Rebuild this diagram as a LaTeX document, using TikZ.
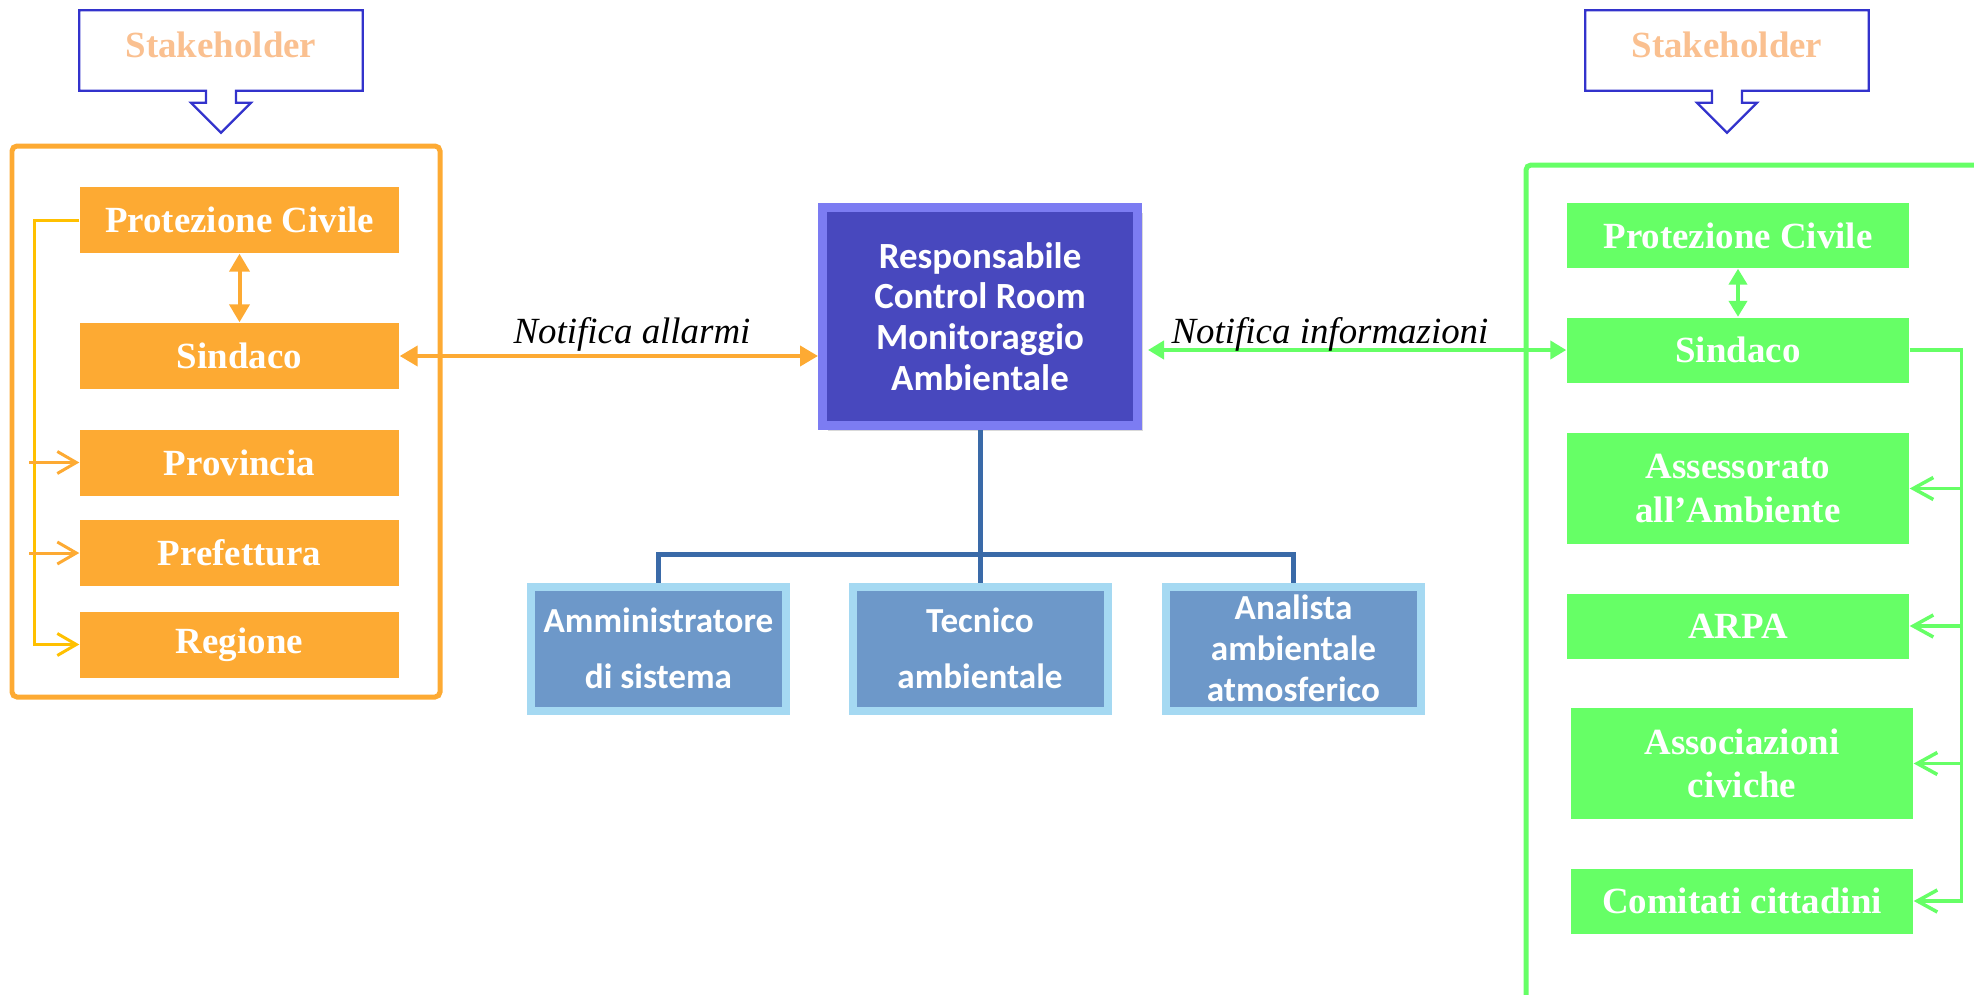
\documentclass[tikz,border=0pt]{standalone}
\usepackage{fontspec}
\setmainfont{Liberation Serif}
\newfontfamily\calibrifont{Carlito}
\usetikzlibrary{arrows.meta,calc,shadows}
\definecolor{stakeblue}{HTML}{3333CC}
\definecolor{peach}{HTML}{FAC090}
\definecolor{orangebox}{HTML}{FDAA33}
\definecolor{railyellow}{HTML}{FFC000}
\definecolor{greenbox}{HTML}{66FF66}
\definecolor{ctrlfill}{HTML}{4848BE}
\definecolor{ctrledge}{HTML}{7C7CF2}
\definecolor{techfill}{HTML}{6D98C9}
\definecolor{techedge}{HTML}{A5D9F2}
\definecolor{busblue}{HTML}{3A6AA8}
\tikzset{
  stake/.style={minimum width=28.2mm,minimum height=7.9mm,text=peach,
    font=\bfseries\fontsize{10.5}{12}\selectfont,text height=2.7mm,text depth=1.2mm},
  callout/.style={draw=stakeblue,line width=0.22mm,line join=miter},
  obox/.style={fill=orangebox,text=white,minimum width=31.9mm,minimum height=6.6mm,
    inner sep=1pt,align=center,font=\bfseries\fontsize{10.5}{12.2}\selectfont},
  gbox/.style={fill=greenbox,text=white,minimum width=34.2mm,minimum height=6.5mm,
    inner sep=1pt,align=center,font=\bfseries\fontsize{10.5}{12.4}\selectfont},
  ctrlbox/.style={fill=ctrlfill,draw=ctrledge,line width=0.9mm,text=white,
    minimum width=31.5mm,minimum height=21.8mm,inner sep=1pt,align=center,
    font=\calibrifont\bfseries\fontsize{10.5}{11.6}\selectfont,
    drop shadow={shadow xshift=0.5mm,shadow yshift=-0.5mm,opacity=0.3}},
  techbox/.style={fill=techfill,draw=techedge,line width=0.8mm,text=white,
    minimum width=25.5mm,minimum height=12.4mm,inner sep=1pt,align=center,
    font=\calibrifont\bfseries\fontsize{10}{16}\selectfont,
    drop shadow={shadow xshift=0.4mm,shadow yshift=-0.4mm,opacity=0.25}},
  oframe/.style={draw=orangebox,line width=0.5mm,rounded corners=0.5mm},
  gframe/.style={draw=greenbox,line width=0.5mm,rounded corners=0.5mm},
  obi/.style={{Triangle[length=1.8mm,width=2mm]}-{Triangle[length=1.8mm,width=2mm]},orangebox,line width=0.4mm},
  gbi/.style={{Triangle[length=1.6mm,width=1.8mm]}-{Triangle[length=1.6mm,width=1.8mm]},greenbox,line width=0.4mm},
  yrail/.style={railyellow,line width=0.3mm,-{Straight Barb[length=1.9mm,width=2.2mm]}},
  orail/.style={orangebox,line width=0.3mm,-{Straight Barb[length=1.9mm,width=2.2mm]}},
  grail/.style={greenbox,line width=0.35mm,-{Straight Barb[length=2mm,width=2.2mm]}},
  bus/.style={busblue,line width=0.5mm},
  notif/.style={anchor=base,font=\itshape\fontsize{10.5}{12}\selectfont},
}
\begin{document}
\begin{tikzpicture}[x=0.1mm,y=-0.1mm]
  \useasboundingbox (0,0) rectangle (1974,995);
  \clip (0,0) rectangle (1974,995);

  % stakeholder callouts
  \node[stake] (skL) at (221,50.5) {Stakeholder};
  \node[stake] (skR) at (1727,50.5) {Stakeholder};
  \draw[callout] (skL.north west) -- (skL.north east) -- (skL.south east)
    -- ($(skL.south)+(15,0)$) -- ++(0,12) -- ++(15,0) -- ($(skL.south)+(0,42)$)
    -- ($(skL.south)+(-30,12)$) -- ++(15,0) -- ++(0,-12) -- (skL.south west) -- cycle;
  \draw[callout] (skR.north west) -- (skR.north east) -- (skR.south east)
    -- ($(skR.south)+(15,0)$) -- ++(0,12) -- ++(15,0) -- ($(skR.south)+(0,42)$)
    -- ($(skR.south)+(-30,12)$) -- ++(15,0) -- ++(0,-12) -- (skR.south west) -- cycle;

  % frames
  \draw[oframe] (12,146) rectangle (440,697);
  \draw[gframe] (1526,165) rectangle (2100,1100);

  % left group
  \node[obox] (oProt) at (239.5,220) {Protezione Civile};
  \node[obox] (oSind) at (239.5,356) {Sindaco};
  \node[obox] (oProv) at (239.5,462.5) {Provincia};
  \node[obox] (oPref) at (239.5,553) {Prefettura};
  \node[obox] (oReg) at (239.5,644.5) {Regione};

  % right group
  \node[gbox] (gProt) at (1738,235.5) {Protezione Civile};
  \node[gbox] (gSind) at (1738,350) {Sindaco};
  \node[gbox,minimum height=11.1mm] (gAss) at (1738,488.5) {Assessorato\\all’Ambiente};
  \node[gbox] (gArpa) at (1738,626) {ARPA};
  \node[gbox,minimum height=11.1mm] (gAsc) at (1742,763.5) {Associazioni\\civiche};
  \node[gbox] (gCom) at (1742,901) {Comitati cittadini};

  % control room
  \coordinate (busC) at (980,554);
  \draw[bus] (980,400) -- (busC);
  \node[ctrlbox] (ctrl) at (980,316.5) {Responsabile\\Control Room\\Monitoraggio\\Ambientale};
  \node[techbox] (tAmm) at (658.5,648.5) {Amministratore\\di sistema};
  \node[techbox] (tTec) at (980,648.5) {Tecnico\\ambientale};
  \node[techbox,font=\calibrifont\bfseries\fontsize{10}{11.7}\selectfont] (tAna) at (1293.5,648.5) {Analista\\ambientale\\atmosferico};
  \draw[bus] (ctrl.south) -- (busC);
  \draw[bus] (tAmm.north) |- (busC) -| (tAna.north);
  \draw[bus] (busC) -- (tTec.north);

  % notifications
  \draw[obi] (oSind.east) -- (oSind.east -| ctrl.west);
  \draw[gbi,shorten >=0.6mm] (gSind.west) -- (gSind.west -| ctrl.east);
  \node[notif] (lAll) at (632,343) {Notifica allarmi};
  \node[notif] (lInf) at (1330,343) {Notifica informazioni};

  % internal links
  \draw[obi] (oProt) -- (oSind);
  \draw[gbi] (gProt) -- (gSind);
  \coordinate (lrail) at (29,0);
  \coordinate (rrail) at (1963,0);
  \draw[yrail] (oProt.west) -- ++(-45,0) |- (oReg.west);
  \draw[orail] (oProv.west -| lrail) -- (oProv.west);
  \draw[orail] (oPref.west -| lrail) -- (oPref.west);
  \draw[grail] (gSind.east) -- ++(52,0) |- (gCom.east);
  \draw[grail] (gAss.east -| rrail) -- (gAss.east);
  \draw[grail] (gArpa.east -| rrail) -- (gArpa.east);
  \draw[grail] (gAsc.east -| rrail) -- (gAsc.east);
\end{tikzpicture}
\end{document}
